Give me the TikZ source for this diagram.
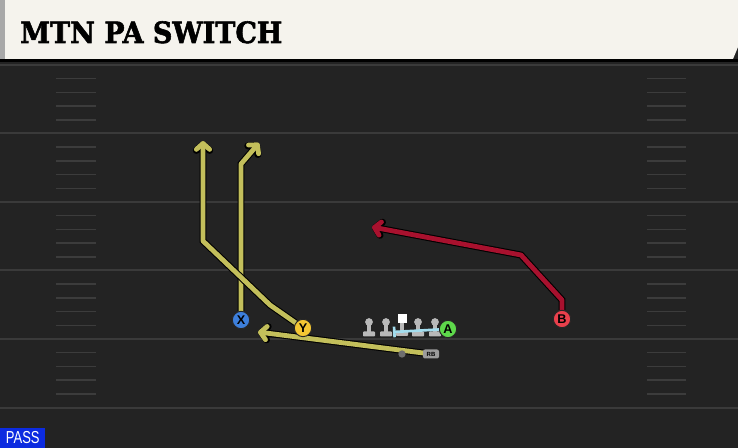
\documentclass[tikz,border=0pt]{standalone}
\usepackage{fontspec}
\usetikzlibrary{arrows.meta}
\newfontfamily\slabfont{DejaVu Serif}[BoldFont={DejaVu Serif Bold}, BoldFeatures={FakeBold=2}]
\newfontfamily\tagfont{Liberation Sans}

\definecolor{fieldbg}{HTML}{232323}
\definecolor{yardgray}{HTML}{3A3A3A}
\definecolor{hashgray}{HTML}{3C3C3C}
\definecolor{titlebg}{HTML}{F5F3ED}
\definecolor{stripegray}{HTML}{A8A8A8}
\definecolor{routeyellow}{HTML}{C3BF5B}
\definecolor{routered}{HTML}{A8112E}
\definecolor{xblue}{HTML}{3D7FDB}
\definecolor{yyellow}{HTML}{F3C633}
\definecolor{agreen}{HTML}{5ED84B}
\definecolor{bred}{HTML}{E9404C}
\definecolor{linegray}{HTML}{B9B9B9}
\definecolor{rbgray}{HTML}{9C9C9C}
\definecolor{qbgray}{HTML}{6E6E6E}
\definecolor{blockblue}{HTML}{A3DDEE}
\definecolor{passblue}{HTML}{0C2BE0}

\pgfdeclarelayer{field}
\pgfdeclarelayer{paths}
\pgfsetlayers{field,paths,main}

\tikzset{
  yardline/.style={draw=yardgray, line width=1.5pt},
  hashmark/.style={draw=hashgray, line width=1.1pt},
  player/.style={circle, draw=black!85, line width=0.7pt, inner sep=0pt, minimum size=13pt,
    font=\tagfont\bfseries\fontsize{9.5}{9.5}\selectfont},
  route/.style={draw=#1, line width=3.6pt, line join=round, line cap=round,
    -{Straight Barb[length=4.5pt,width=10pt,round]},
    preaction={draw=black, line width=5.2pt}},
  lineman/.style={circle, fill=linegray, inner sep=0pt, minimum size=5.8pt},
  linebase/.style={fill=linegray, rounded corners=0.6pt},
}

\begin{document}
\begin{tikzpicture}[x=0.75pt,y=0.75pt,yscale=-1,xscale=1]
\useasboundingbox (0,0) rectangle (738,448);

\begin{pgfonlayer}{field}
%Field
\fill[fieldbg] (0,0) rectangle (738,448);
%Yard lines
\foreach \y in {65,133.5,202,270.5,339,407.5}
  \draw[yardline] (0,\y) -- (738,\y);
%Hash marks
\foreach \y in {65,133.5,202,270.5,339}
  \foreach \k in {1,...,4}{
    \draw[hashmark] (56,\y+13.7*\k) -- (96,\y+13.7*\k);
    \draw[hashmark] (647,\y+13.7*\k) -- (686,\y+13.7*\k);
  }
%Title bar
\fill[black] (0,59) rectangle (738,62.5);
\fill[titlebg] (5,0) -- (738,0) -- (738,47) -- (733,59) -- (5,59) -- cycle;
\fill[stripegray] (0,0) rectangle (5,59);
\end{pgfonlayer}

% Title
\node[anchor=base west, inner sep=0pt, font=\slabfont\bfseries\fontsize{22}{24}\selectfont] (title) at (20,43) {\scalebox{0.92}[1]{MTN PA SWITCH}};

% Offensive line
\foreach \x/\n in {369/LT,386/LG,418/RG,435/RT}{
  \fill[linebase] (\x-6,331.5) rectangle (\x+6,336.5);
  \draw[linegray, line width=2.4pt] (\x,322) -- (\x,332);
  \node[lineman] (\n) at (\x,322) {};
}
\fill[linebase] (396,331) rectangle (408,336);
\draw[linegray, line width=2.4pt] (402,318) -- (402,332);
\node[fill=white, inner sep=0pt, minimum size=6.75pt] (C) at (402,318.5) {};

% Players
\node[player, fill=xblue] (X) at (241,320) {X};
\node[player, fill=yyellow] (Y) at (303,328) {Y};
\node[player, fill=agreen] (A) at (448,329) {A};
\node[player, fill=bred] (B) at (562,319) {B};
\node[circle, fill=qbgray, inner sep=0pt, minimum size=5.5pt] (QB) at (402,354) {};
\node[fill=rbgray, rounded corners=1.5pt, inner sep=0pt, minimum width=12pt, minimum height=6.75pt,
  font=\tagfont\bfseries\fontsize{4.5}{4.5}\selectfont] (RB) at (431,354) {RB};

% Block
\coordinate (blockStart) at (393,332);
\draw[blockblue, line width=2pt, {Bar[width=8pt]}-] (blockStart) -- (A);

% Routes
\begin{pgfonlayer}{paths}
\coordinate (xEnd) at (259,143);
\coordinate (yEnd) at (203,141);
\coordinate (rbEnd) at (258,332);
\coordinate (bEnd) at (372,227);
\draw[route=routeyellow] (X) -- (241,164) -- (xEnd);
\draw[route=routeyellow] (Y) -- (270,305) -- (203,241) -- (yEnd);
\draw[route=routeyellow] (RB) -- (rbEnd);
\draw[route=routered] (B) -- (562,300) -- (521,255) -- (bEnd);
\end{pgfonlayer}

% Play type
\node[fill=passblue, anchor=south west, minimum width=33.75pt, minimum height=15pt, inner sep=0pt,
  text=white, font=\tagfont\fontsize{13}{13}\selectfont] (pass) at (0,448) {\scalebox{0.75}[1]{PASS}};

\end{tikzpicture}
\end{document}
